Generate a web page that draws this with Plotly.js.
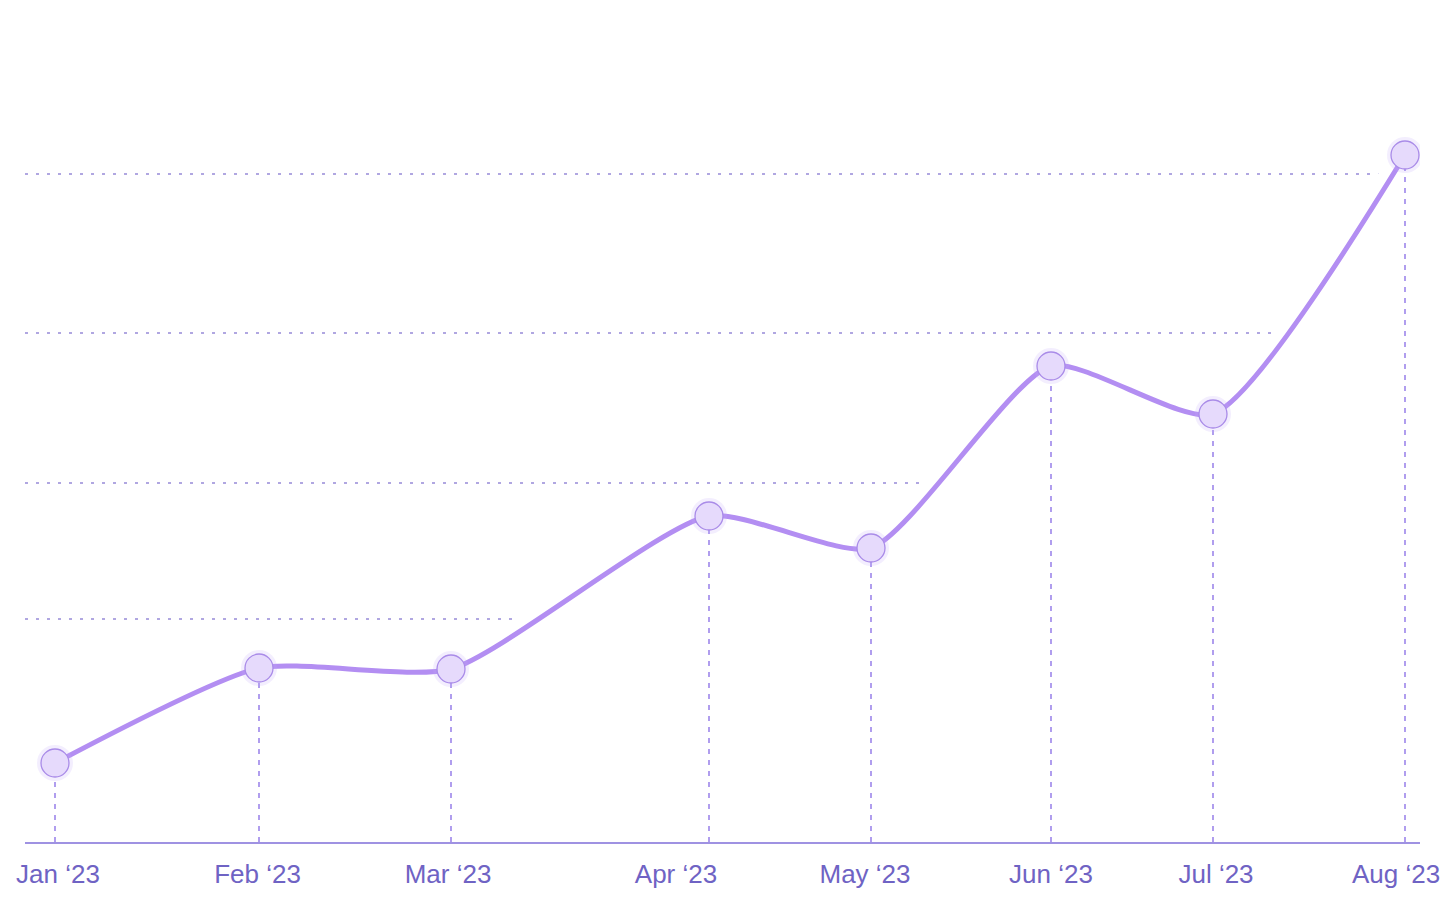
<!DOCTYPE html>
<html>
<head>
<meta charset="utf-8">
<script src="https://cdn.plot.ly/plotly-3.0.1.min.js"></script>
<style>
  html, body { margin: 0; padding: 0; background: #ffffff; }
  #chart { width: 1452px; height: 911px; }
</style>
</head>
<body>
<div id="chart"></div>
<script>
// ---- data ----
const dates = ['2023-01-05', '2023-02-08', '2023-03-12', '2023-04-24', '2023-05-21', '2023-06-20', '2023-07-17', '2023-08-18'];
const values = [790, 1740, 1730, 3260, 2940, 4760, 4280, 6870];
const tickDates = ['2023-01-05 12:00', '2023-02-07 18:00', '2023-03-11 12:00', '2023-04-18 12:00', '2023-05-20', '2023-06-20', '2023-07-17 12:00', '2023-08-16 12:00'];
const tickLabels = ['Jan \u201823', 'Feb \u201823', 'Mar \u201823', 'Apr \u201823', 'May \u201823', 'Jun \u201823', 'Jul \u201823', 'Aug \u201823'];
const gridValues = [2230, 3590, 5090, 6680];

const xStart = '2022-12-31';
const xEnd = '2023-08-20 12:00';

// drop lines built from the data
const dropX = [], dropY = [];
dates.forEach((d, i) => { dropX.push(d, d, null); dropY.push(0, values[i], null); });

const lineColor = '#b38ef2';

const traces = [
  { // white halo + fill hiding gridlines beneath the curve
    x: dates, y: values, mode: 'lines+markers', type: 'scatter',
    line: { shape: 'spline', smoothing: 0.6, color: '#ffffff', width: 26 },
    marker: { size: 40, color: '#ffffff' },
    fill: 'tozeroy', fillcolor: '#ffffff', hoverinfo: 'skip', showlegend: false
  },
  { // dashed drop lines
    x: dropX, y: dropY, mode: 'lines', type: 'scatter',
    line: { color: '#9d86ea', width: 1.6, dash: '5px,6px' },
    hoverinfo: 'skip', showlegend: false
  },
  { // main line
    x: dates, y: values, mode: 'lines', type: 'scatter',
    line: { shape: 'spline', smoothing: 0.6, color: lineColor, width: 5 },
    showlegend: false
  },
  { // glow
    x: dates, y: values, mode: 'markers', type: 'scatter',
    marker: { size: 36, color: 'rgba(196,170,250,0.2)', line: { width: 0 } },
    hoverinfo: 'skip', showlegend: false
  },
  { // markers
    x: dates, y: values, mode: 'markers', type: 'scatter',
    marker: { size: 28, color: '#e6dafc', line: { color: '#a98be8', width: 1.3 } },
    showlegend: false
  }
];

// dotted horizontal guide lines, drawn below the traces so the white fill hides them under the curve
const shapes = gridValues.map(v => ({
  type: 'line', xref: 'x', yref: 'y', layer: 'below',
  x0: xStart, x1: dates[dates.length - 1], y0: v, y1: v,
  line: { color: '#968ad8', width: 1.6, dash: '3px,8px' }
}));

const layout = {
  width: 1452, height: 911,
  margin: { l: 25, r: 32, t: 0, b: 69 },
  paper_bgcolor: '#ffffff', plot_bgcolor: '#ffffff',
  showlegend: false,
  xaxis: {
    type: 'date',
    range: [xStart, xEnd],
    tickmode: 'array', tickvals: tickDates, ticktext: tickLabels,
    showgrid: false, zeroline: false,
    showline: true, linecolor: '#9f92e2', linewidth: 1.5,
    ticks: '', ticklen: 0, ticklabelstandoff: 8,
    tickfont: { family: 'Liberation Sans, Arial, sans-serif', size: 26, color: '#6f63c4' }
  },
  yaxis: {
    range: [0, 8420],
    showticklabels: false, ticks: '',
    showgrid: false, zeroline: false, showline: false
  },
  shapes: shapes
};

Plotly.newPlot('chart', traces, layout, { displayModeBar: false, staticPlot: true });
</script>
</body>
</html>
